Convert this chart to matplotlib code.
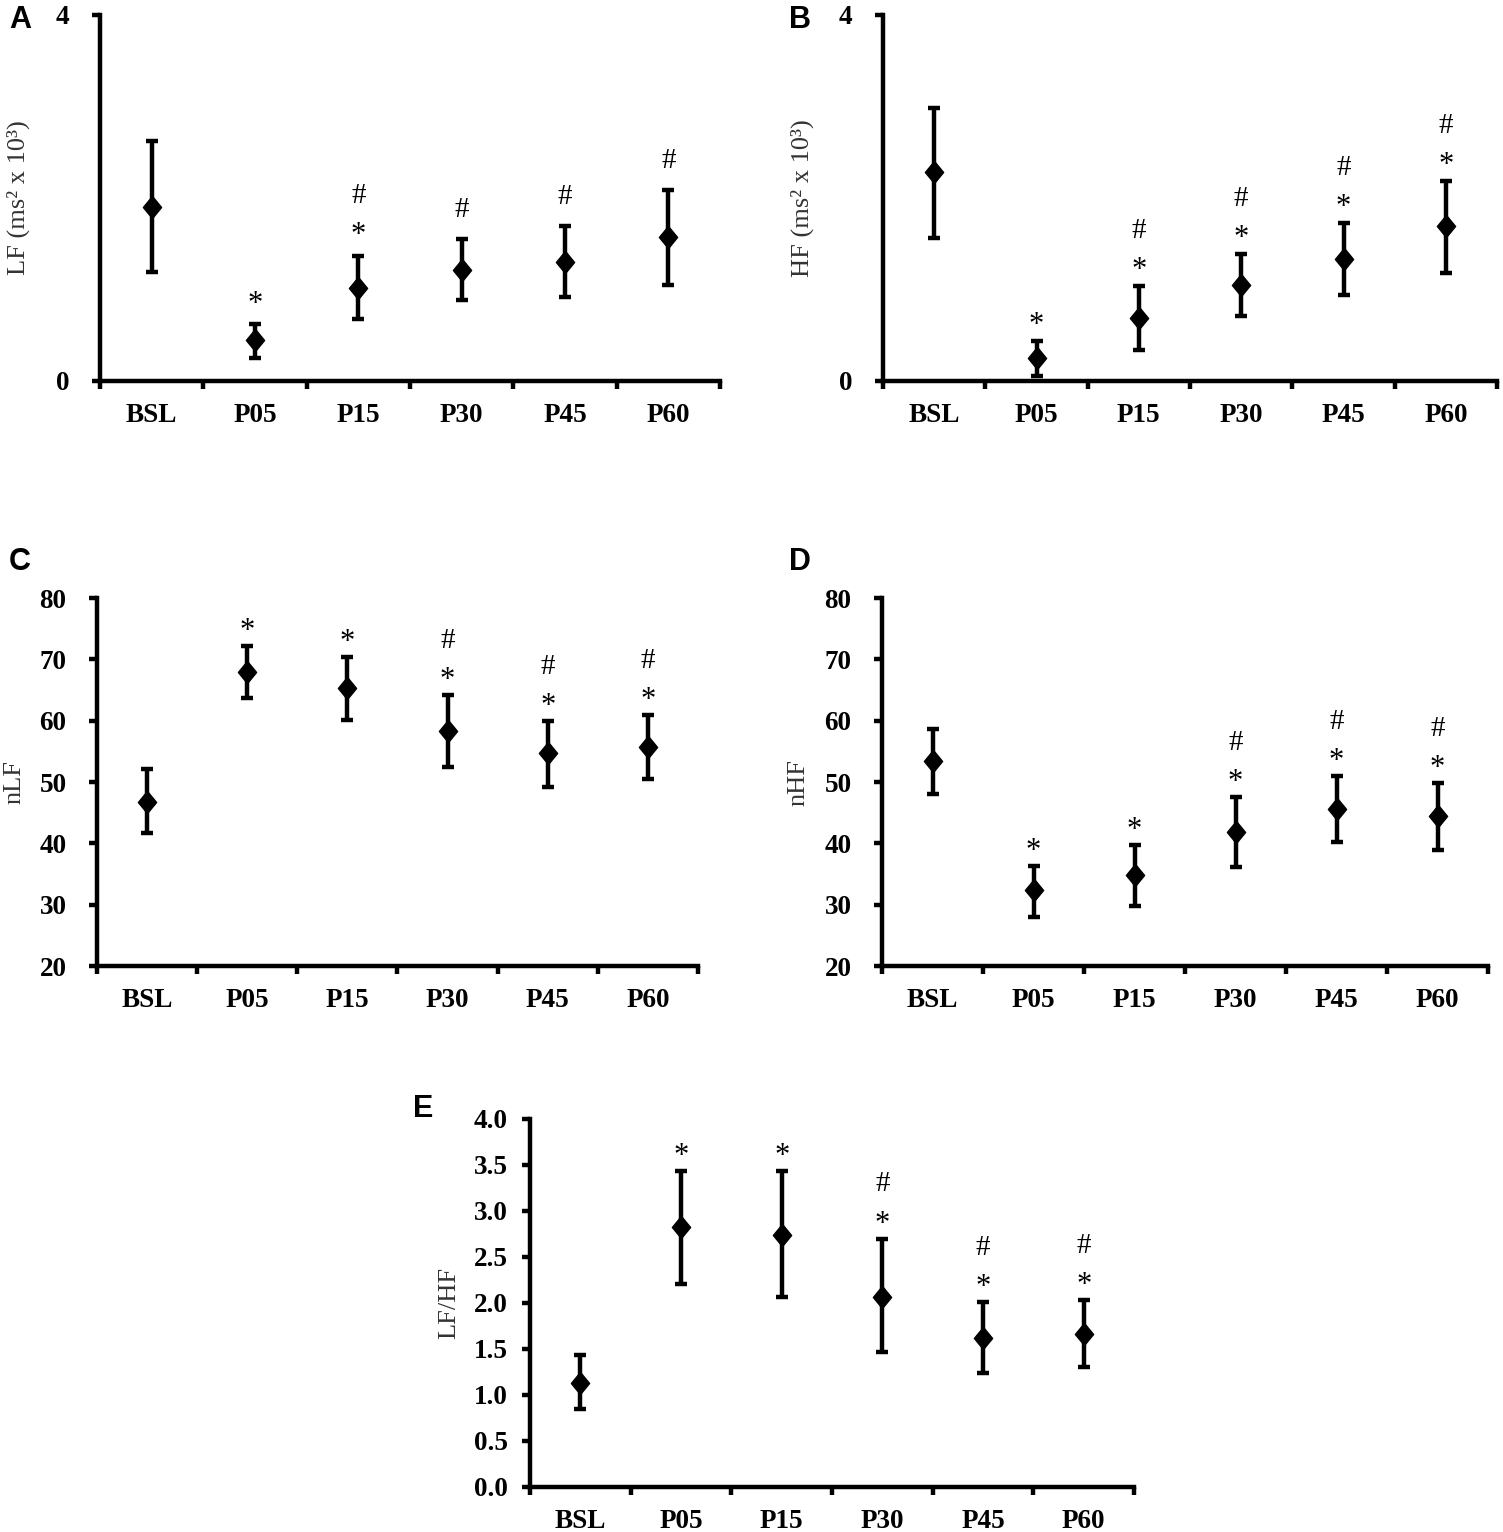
import numpy as np
import matplotlib
matplotlib.use("Agg")
import matplotlib.pyplot as plt

plt.rcParams['font.family'] = ['Liberation Serif', 'DejaVu Serif']

cats = ["BSL", "P05", "P15", "P30", "P45", "P60"]

# panel A - LF (ms2 x 10^3)
lf_mean = [1.90, 0.45, 1.02, 1.21, 1.30, 1.57]
lf_lo = [1.19, 0.25, 0.68, 0.89, 0.92, 1.05]
lf_hi = [2.62, 0.62, 1.37, 1.55, 1.69, 2.09]
lf_star = [0, 1, 1, 0, 0, 0]
lf_hash = [0, 0, 1, 1, 1, 1]

# panel B - HF (ms2 x 10^3)
hf_mean = [2.28, 0.25, 0.69, 1.05, 1.33, 1.69]
hf_lo = [1.56, 0.05, 0.34, 0.71, 0.94, 1.18]
hf_hi = [2.98, 0.44, 1.04, 1.39, 1.73, 2.19]
hf_star = [0, 1, 1, 1, 1, 1]
hf_hash = [0, 0, 1, 1, 1, 1]

# panel C - nLF
nlf_mean = [46.7, 67.9, 65.3, 58.3, 54.7, 55.7]
nlf_lo = [41.7, 63.7, 60.1, 52.4, 49.2, 50.5]
nlf_hi = [52.1, 72.2, 70.4, 64.2, 59.9, 60.9]
nlf_star = [0, 1, 1, 1, 1, 1]
nlf_hash = [0, 0, 0, 1, 1, 1]

# panel D - nHF
nhf_mean = [53.4, 32.4, 34.8, 41.8, 45.6, 44.4]
nhf_lo = [48.0, 28.0, 29.8, 36.1, 40.2, 38.9]
nhf_hi = [58.6, 36.3, 39.7, 47.5, 51.0, 49.8]
nhf_star = [0, 1, 1, 1, 1, 1]
nhf_hash = [0, 0, 0, 1, 1, 1]

# panel E - LF/HF
ratio_mean = [1.13, 2.83, 2.74, 2.07, 1.62, 1.66]
ratio_lo = [0.85, 2.21, 2.06, 1.47, 1.24, 1.30]
ratio_hi = [1.44, 3.44, 3.44, 2.70, 2.01, 2.03]
ratio_star = [0, 1, 1, 1, 1, 1]
ratio_hash = [0, 0, 0, 1, 1, 1]

W, H = 1503, 1532
fig = plt.figure(figsize=(W / 100, H / 100), dpi=100)


def make_ax(l, t, r, b):
    return fig.add_axes([l / W, 1 - b / H, (r - l) / W, (b - t) / H])


diamond = [(0, 1), (0.82, 0), (0, -1), (-0.82, 0), (0, 1)]


def panel(ax, mean, lo, hi, star, hsh, ylim, yticks, ylabel, fmt, ypad,
          star_off, lab_x):
    x = np.arange(len(cats))
    mean = np.array(mean)
    err = [mean - np.array(lo), np.array(hi) - mean]
    ax.errorbar(x, mean, yerr=err, fmt='none', ecolor='black',
                elinewidth=3.2, capsize=4.5, capthick=3.2)
    ax.plot(x, mean, linestyle='none', marker=diamond, markersize=16,
            color='black')
    ax.set_xlim(-0.5, 5.5)
    ax.set_ylim(*ylim)
    for s in ['top', 'right']:
        ax.spines[s].set_visible(False)
    for s in ['left', 'bottom']:
        ax.spines[s].set_linewidth(3.2)
    ax.set_xticks(np.arange(-0.5, 6, 1))
    ax.set_xticklabels([])
    ax.set_xticks(x, minor=True)
    ax.set_xticklabels(cats, minor=True, fontweight='bold', fontsize=19.5)
    ax.tick_params(axis='x', which='major', direction='out', length=6,
                   width=3.2)
    ax.tick_params(axis='x', which='minor', length=0, pad=16)
    ax.set_yticks(yticks)
    ax.set_yticklabels([fmt % v for v in yticks], fontweight='bold',
                       fontsize=19.5)
    ax.tick_params(axis='y', direction='out', length=6, width=3.2, pad=ypad)
    ax.set_ylabel(ylabel, fontsize=19, color='#333333')
    ax.yaxis.set_label_coords(lab_x, 0.5)
    for i in range(len(cats)):
        if star[i]:
            ax.annotate('*', xy=(i, hi[i]), xytext=(0, star_off),
                        textcoords='offset points', ha='center',
                        va='baseline', fontsize=22)
            if hsh[i]:
                ax.annotate('#', xy=(i, hi[i]), xytext=(0, star_off + 29),
                            textcoords='offset points', ha='center',
                            va='baseline', fontsize=21)
        elif hsh[i]:
            ax.annotate('#', xy=(i, hi[i]), xytext=(0, 16),
                        textcoords='offset points', ha='center',
                        va='baseline', fontsize=21)


axA = make_ax(100, 15, 720, 381)
panel(axA, lf_mean, lf_lo, lf_hi, lf_star, lf_hash, (0, 4), [0, 4],
      'LF (ms² x 10³)', '%d', 16, 9, -0.113)
axB = make_ax(883, 15, 1497, 381)
panel(axB, hf_mean, hf_lo, hf_hi, hf_star, hf_hash, (0, 4), [0, 4],
      'HF (ms² x 10³)', '%d', 16, 5.5, -0.113)
axC = make_ax(97, 598, 698, 966)
panel(axC, nlf_mean, nlf_lo, nlf_hi, nlf_star, nlf_hash, (20, 80),
      list(range(20, 81, 10)), 'nLF', '%d', 16, 5, -0.119)
axD = make_ax(882, 598, 1488, 966)
panel(axD, nhf_mean, nhf_lo, nhf_hi, nhf_star, nhf_hash, (20, 80),
      list(range(20, 81, 10)), 'nHF', '%d', 16, 5, -0.119)
axE = make_ax(530, 1119, 1134, 1487)
panel(axE, ratio_mean, ratio_lo, ratio_hi, ratio_star, ratio_hash, (0, 4),
      list(np.arange(0, 4.01, 0.5)), 'LF/HF', '%.1f', 10, 5, -0.115)

letters = [("A", 9, 28), ("B", 789, 28), ("C", 9, 570), ("D", 789, 570),
           ("E", 413, 1117)]
for t, px, py in letters:
    fig.text(px / W, 1 - py / H, t, fontsize=22, fontweight='bold',
             family='Liberation Sans', ha='left', va='baseline')

fig.savefig("out.png", dpi=100)
